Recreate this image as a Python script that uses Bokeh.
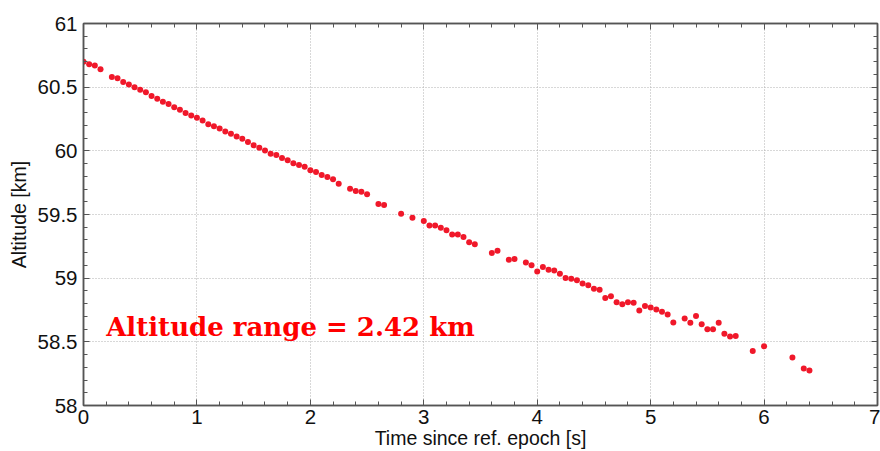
from bokeh.plotting import figure
from bokeh.models import LinearAxis, FixedTicker, Range1d, Label
from bokeh.embed import file_html
from bokeh.resources import INLINE

time_s = [0.00, 0.05, 0.10, 0.15, 0.25, 0.30, 0.35, 0.40, 0.45, 0.50,
          0.55, 0.60, 0.65, 0.70, 0.75, 0.80, 0.85, 0.90, 0.95, 1.00,
          1.05, 1.10, 1.15, 1.20, 1.25, 1.30, 1.35, 1.40, 1.45, 1.50,
          1.55, 1.60, 1.65, 1.70, 1.75, 1.80, 1.85, 1.90, 1.95, 2.00,
          2.05, 2.10, 2.15, 2.20, 2.25, 2.35, 2.40, 2.45, 2.50, 2.60,
          2.65, 2.80, 2.90, 3.00, 3.05, 3.10, 3.15, 3.20, 3.25, 3.30,
          3.35, 3.40, 3.45, 3.60, 3.65, 3.75, 3.80, 3.90, 3.95, 4.00,
          4.05, 4.10, 4.15, 4.20, 4.25, 4.30, 4.35, 4.40, 4.45, 4.50,
          4.55, 4.60, 4.65, 4.70, 4.75, 4.80, 4.85, 4.90, 4.95, 5.00,
          5.05, 5.10, 5.15, 5.20, 5.30, 5.35, 5.40, 5.45, 5.50, 5.55,
          5.60, 5.65, 5.70, 5.75, 5.90, 6.00, 6.25, 6.35, 6.40]

altitude_km = [60.700, 60.680, 60.670, 60.640, 60.580, 60.570, 60.540, 60.520, 60.500, 60.480,
               60.460, 60.430, 60.410, 60.385, 60.367, 60.342, 60.322, 60.298, 60.278, 60.259,
               60.238, 60.209, 60.194, 60.176, 60.152, 60.134, 60.113, 60.095, 60.069, 60.043,
               60.025, 60.002, 59.978, 59.967, 59.944, 59.926, 59.902, 59.889, 59.875, 59.847,
               59.833, 59.811, 59.795, 59.777, 59.741, 59.702, 59.684, 59.678, 59.660, 59.582,
               59.574, 59.506, 59.475, 59.448, 59.413, 59.413, 59.395, 59.377, 59.342, 59.342,
               59.324, 59.283, 59.267, 59.197, 59.215, 59.145, 59.150, 59.123, 59.101, 59.053,
               59.088, 59.066, 59.061, 59.035, 59.002, 58.996, 58.983, 58.959, 58.944, 58.916,
               58.910, 58.845, 58.858, 58.811, 58.795, 58.811, 58.806, 58.746, 58.782, 58.770,
               58.753, 58.736, 58.715, 58.652, 58.684, 58.650, 58.702, 58.639, 58.598, 58.598,
               58.650, 58.564, 58.541, 58.545, 58.428, 58.465, 58.377, 58.291, 58.275]

x_ticks = [0, 1, 2, 3, 4, 5, 6, 7]
x_tick_labels = ["0", "1", "2", "3", "4", "5", "6", "7"]
y_ticks = [58, 58.5, 59, 59.5, 60, 60.5, 61]
y_tick_labels = ["58", "58.5", "59", "59.5", "60", "60.5", "61"]
x_minor_step = 0.2
y_minor_step = 0.1

x_label = "Time since ref. epoch [s]"
y_label = "Altitude [km]"
annotation_text = "Altitude range = 2.42 km"

x_minor = [round(i * x_minor_step, 3) for i in range(int(7 / x_minor_step) + 1)]
y_minor = [round(58 + i * y_minor_step, 3) for i in range(int(3 / y_minor_step) + 1)]

FONT = "Liberation Sans"
TICK_FS = "20.5px"
AXIS_COLOR = "#555555"

p = figure(width=880, height=451, output_backend="svg", toolbar_location=None,
           x_range=Range1d(0, 7), y_range=Range1d(58, 61),
           min_border_left=83, min_border_right=3, min_border_top=23,
           min_border_bottom=44,
           x_axis_label=x_label, y_axis_label=y_label)
p.background_fill_color = "white"
p.border_fill_color = "white"
p.outline_line_color = AXIS_COLOR
p.outline_line_width = 1.5

xt = FixedTicker(ticks=x_ticks, minor_ticks=x_minor)
yt = FixedTicker(ticks=y_ticks, minor_ticks=y_minor)


def style_axis(ax, ticker, labels, ticks, show_labels=True):
    ax.ticker = ticker
    ax.axis_line_color = AXIS_COLOR
    ax.axis_line_width = 1.5
    ax.major_tick_in = 6
    ax.major_tick_out = 0
    ax.minor_tick_in = 4
    ax.minor_tick_out = 0
    ax.major_tick_line_color = AXIS_COLOR
    ax.minor_tick_line_color = AXIS_COLOR
    ax.major_label_overrides = {t: l for t, l in zip(ticks, labels)}
    if show_labels:
        ax.major_label_text_font = FONT
        ax.major_label_text_font_size = TICK_FS
        ax.major_label_text_color = "#111111"
        ax.axis_label_text_font = FONT
        ax.axis_label_text_font_size = "19.5px"
        ax.axis_label_text_font_style = "normal"
        ax.axis_label_text_color = "#111111"
    else:
        ax.major_label_text_font_size = "0px"
        ax.major_label_standoff = 0


style_axis(p.xaxis[0], xt, x_tick_labels, x_ticks)
style_axis(p.yaxis[0], yt, y_tick_labels, y_ticks)
p.xaxis[0].major_label_standoff = 4
p.xaxis[0].axis_label_standoff = 0
p.yaxis[0].major_label_standoff = 6
p.yaxis[0].axis_label_standoff = 5

top_ax = LinearAxis()
style_axis(top_ax, xt, [""] * len(x_ticks), x_ticks, show_labels=False)
right_ax = LinearAxis()
style_axis(right_ax, yt, [""] * len(y_ticks), y_ticks, show_labels=False)
p.add_layout(top_ax, "above")
p.add_layout(right_ax, "right")

p.xgrid.ticker = xt
p.ygrid.ticker = yt
for g in (p.xgrid[0], p.ygrid[0]):
    g.grid_line_color = "#b0b0b0"
    g.grid_line_dash = "1 2"
    g.grid_line_width = 1

p.scatter(time_s, altitude_km, size=6, color="#f0182a", line_width=0)

p.add_layout(Label(x=0.2, y=58.615, text=annotation_text,
                   text_font="DejaVu Serif", text_font_style="bold",
                   text_font_size="26px", text_color="#ff0000",
                   text_baseline="alphabetic"))

open("out.html", "w").write(file_html(p, INLINE))
